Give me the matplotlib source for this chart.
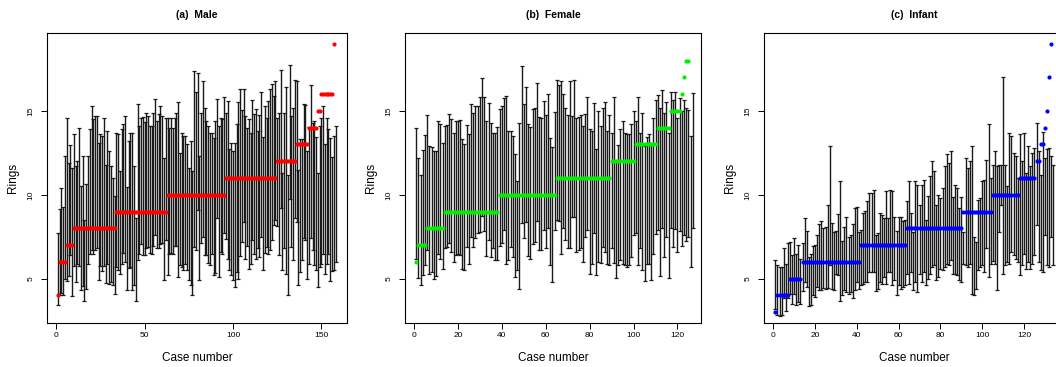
import numpy as np
import matplotlib
matplotlib.use('Agg')
import matplotlib.pyplot as plt

plt.rcParams['font.family'] = ['Liberation Sans', 'DejaVu Sans']

# observed rings (sorted), stored as value / number of cases
male_ring_values = [4, 6, 7, 8, 9, 10, 11, 12, 13, 14, 15, 16, 19]
male_ring_counts = [1, 4, 4, 24, 29, 33, 29, 11, 7, 5, 2, 7, 1]
female_ring_values = [6, 7, 8, 9, 10, 11, 12, 13, 14, 15, 16, 17, 18]
female_ring_counts = [1, 4, 8, 25, 26, 25, 11, 10, 6, 5, 1, 1, 2]
infant_ring_values = [3, 4, 5, 6, 7, 8, 9, 10, 11, 12, 13, 14, 15, 17, 19]
infant_ring_counts = [1, 6, 6, 28, 22, 27, 14, 13, 8, 2, 2, 1, 1, 1, 1]

# prediction interval per case
male_lower = [3.45, 4.05, 4.15, 4.0, 5.0, 4.85, 5.15, 6.4, 3.95, 5.75,
              4.8, 5.9, 5.75, 4.35, 4.55, 3.65, 4.4, 5.9, 6.5, 6.7,
              6.5, 6.7, 6.8, 4.95, 5.75, 5.45, 5.75, 4.75, 5.9, 4.7,
              4.8, 4.65, 4.1, 5.7, 5.5, 5.3, 5.85, 6.55, 6.0, 4.3,
              5.65, 5.7, 4.3, 4.6, 3.7, 6.1, 6.5, 7.05, 6.4, 6.4,
              6.8, 6.9, 6.55, 6.5, 6.95, 7.6, 6.8, 6.8, 7.05, 7.1,
              4.9, 7.3, 5.2, 6.5, 6.55, 6.5, 6.95, 6.95, 5.1, 5.8,
              5.7, 5.5, 5.9, 5.5, 4.9, 4.6, 4.0, 6.9, 6.7, 9.1,
              4.95, 7.15, 7.5, 6.4, 6.4, 5.95, 5.8, 6.5, 5.2, 5.35,
              8.6, 5.1, 6.6, 6.5, 7.7, 7.35, 6.2, 5.5, 5.2, 4.9,
              4.5, 5.4, 5.0, 6.35, 7.2, 8.35, 6.2, 6.95, 5.6, 5.9,
              7.3, 6.5, 6.15, 6.8, 6.3, 7.5, 5.5, 6.55, 6.9, 6.5,
              6.7, 7.3, 8.2, 8.5, 8.15, 6.4, 9.2, 5.5, 6.8, 5.3,
              4.0, 9.75, 6.9, 6.1, 8.6, 8.4, 4.6, 5.4, 6.1, 7.4,
              7.3, 5.0, 5.9, 7.4, 6.7, 5.8, 5.5, 4.5, 5.7, 5.9,
              6.5, 5.25, 5.9, 6.5, 4.85, 5.45, 5.5, 6.0]
male_upper = [7.7, 9.15, 10.4, 9.3, 12.3, 14.6, 11.9, 12.95, 11.6, 13.6,
              11.7, 12.0, 14.0, 10.5, 12.3, 8.5, 10.65, 12.3, 13.9, 15.3,
              14.5, 14.7, 14.7, 13.1, 13.6, 13.5, 14.55, 11.8, 13.8, 12.6,
              11.7, 11.0, 9.95, 13.7, 13.6, 11.4, 13.9, 14.2, 14.7, 10.45,
              13.2, 13.7, 13.7, 11.7, 8.6, 15.4, 14.1, 14.6, 14.65, 14.35,
              14.9, 14.7, 14.1, 14.1, 14.9, 15.7, 14.4, 14.8, 15.3, 14.7,
              12.2, 14.6, 14.6, 14.0, 14.6, 14.0, 14.6, 14.9, 15.5, 12.5,
              13.7, 13.5, 13.5, 13.0, 11.6, 13.2, 11.4, 17.4, 16.1, 17.25,
              12.3, 14.9, 16.75, 15.2, 14.4, 14.1, 13.7, 13.7, 13.4, 14.4,
              15.7, 14.1, 14.6, 14.5, 15.8, 14.9, 15.6, 12.7, 13.1, 12.6,
              13.1, 14.2, 15.5, 16.3, 15.05, 16.3, 14.7, 14.0, 14.5, 13.7,
              15.65, 14.8, 15.1, 13.8, 14.75, 16.1, 13.45, 15.3, 14.6, 15.6,
              16.3, 16.6, 15.9, 16.75, 14.6, 14.9, 17.45, 11.3, 14.85, 16.4,
              11.2, 17.75, 14.7, 15.2, 16.85, 16.8, 11.5, 13.3, 13.3, 15.4,
              15.35, 12.6, 14.05, 16.55, 14.3, 14.4, 13.45, 11.3, 14.1, 14.6,
              15.3, 13.0, 14.6, 13.9, 13.4, 12.25, 13.5, 14.1]

female_lower = [6.2, 5.05, 4.65, 5.2, 5.8, 6.7, 5.3, 5.4, 5.0, 5.15,
                6.5, 6.2, 5.55, 6.8, 6.9, 7.1, 6.6, 6.0, 6.4, 6.5,
                6.4, 5.55, 5.5, 6.9, 5.9, 7.5, 6.9, 7.4, 7.7, 7.8,
                8.75, 7.85, 6.35, 7.3, 6.3, 6.8, 6.1, 6.1, 6.95, 7.15,
                7.9, 5.9, 6.1, 6.9, 6.3, 5.1, 5.5, 4.4, 8.3, 7.4,
                8.4, 6.35, 6.15, 7.05, 7.2, 8.45, 6.7, 6.7, 7.9, 6.8,
                8.0, 5.8, 4.8, 7.9, 8.5, 8.45, 6.5, 8.0, 7.3, 6.85,
                6.8, 8.65, 8.7, 6.6, 6.7, 6.8, 6.0, 7.5, 7.9, 5.3,
                5.9, 7.7, 5.2, 6.0, 5.95, 6.9, 6.6, 5.85, 5.8, 6.8,
                5.95, 5.05, 5.8, 6.1, 5.85, 5.8, 5.7, 5.8, 6.3, 7.6,
                7.7, 5.8, 6.8, 5.5, 4.85, 5.9, 5.9, 4.9, 6.5, 7.65,
                7.9, 5.15, 8.0, 6.3, 7.5, 5.05, 8.0, 6.9, 7.95, 6.6,
                7.85, 6.95, 7.6, 7.25, 7.5, 5.7, 8.0]
female_upper = [13.95, 12.2, 11.2, 12.65, 13.55, 14.75, 12.9, 12.85, 12.6, 12.6,
                14.4, 14.2, 13.1, 14.1, 14.15, 14.8, 14.5, 13.7, 14.4, 14.4,
                14.45, 13.3, 13.0, 14.15, 13.65, 15.4, 14.85, 15.3, 15.3, 15.85,
                16.95, 15.8, 14.4, 15.45, 14.3, 13.7, 13.7, 14.05, 15.1, 15.3,
                15.75, 15.9, 13.8, 13.8, 13.5, 12.4, 10.85, 14.3, 17.65, 15.4,
                16.4, 14.2, 14.05, 15.1, 15.15, 16.65, 14.65, 14.55, 15.6, 14.75,
                16.0, 13.4, 12.85, 14.95, 16.85, 16.55, 16.75, 16.0, 15.2, 14.75,
                16.75, 14.7, 16.85, 14.6, 14.65, 14.75, 14.1, 14.8, 15.8, 13.9,
                13.8, 15.45, 12.7, 15.0, 14.1, 15.15, 15.55, 13.8, 14.75, 13.7,
                15.8, 12.1, 12.95, 13.9, 14.4, 13.7, 13.6, 13.6, 14.2, 15.0,
                14.4, 15.8, 13.7, 14.85, 12.9, 13.45, 13.6, 13.0, 14.55, 15.65,
                15.95, 15.15, 16.25, 14.85, 15.5, 13.7, 16.1, 15.65, 16.15, 14.55,
                15.75, 15.0, 15.65, 15.15, 15.05, 13.5, 16.05]

infant_lower = [3.2, 2.83, 2.77, 2.83, 3.82, 3.07, 3.82, 4.1, 3.5, 4.1,
                3.46, 3.6, 3.5, 4.26, 4.8, 4.5, 3.4, 3.46, 4.0, 3.9,
                4.5, 4.3, 4.3, 4.45, 4.4, 4.45, 5.8, 4.4, 4.3, 5.3,
                5.2, 3.7, 4.0, 4.3, 4.2, 4.1, 4.2, 3.82, 4.3, 4.78,
                4.4, 4.6, 4.7, 4.78, 4.8, 5.4, 5.4, 5.4, 4.26, 4.4,
                4.8, 4.7, 5.1, 4.7, 5.4, 5.4, 4.6, 4.9, 4.05, 4.6,
                4.4, 4.5, 4.65, 5.3, 4.7, 5.4, 4.3, 4.8, 4.2, 5.3,
                4.8, 5.4, 4.6, 5.0, 5.3, 5.7, 5.8, 4.9, 5.1, 5.6,
                5.5, 5.7, 5.9, 5.8, 6.1, 5.3, 5.3, 5.2, 4.9, 4.8,
                5.9, 5.8, 5.7, 5.85, 4.1, 4.0, 4.4, 5.5, 5.7, 5.8,
                5.4, 6.8, 5.1, 5.85, 6.05, 5.9, 4.3, 7.8, 9.4, 5.3,
                5.8, 6.0, 5.85, 6.6, 6.4, 6.2, 6.0, 5.2, 5.8, 6.5,
                5.6, 6.0, 5.6, 5.85, 6.4, 8.2, 6.0, 5.5, 5.4, 7.6,
                5.8, 5.7, 7.5, 5.8]
infant_upper = [6.1, 5.8, 5.7, 5.7, 6.85, 5.9, 7.1, 7.2, 6.4, 7.4,
                6.5, 7.0, 6.2, 7.1, 8.6, 7.85, 6.3, 6.5, 6.97, 7.0,
                7.6, 8.25, 8.45, 8.05, 8.1, 9.4, 12.9, 8.3, 7.8, 7.85,
                8.85, 10.85, 7.25, 8.1, 8.65, 7.5, 7.6, 8.25, 9.2, 9.3,
                7.8, 7.9, 8.9, 9.05, 9.6, 10.1, 10.1, 10.3, 7.6, 7.75,
                8.9, 8.8, 8.6, 10.25, 8.6, 10.3, 10.2, 8.65, 7.85, 8.7,
                8.65, 8.45, 8.5, 9.6, 10.8, 8.9, 7.8, 10.8, 10.6, 9.4,
                10.6, 10.9, 8.5, 9.9, 11.1, 12.0, 11.4, 9.4, 10.0, 9.8,
                10.4, 11.7, 12.4, 11.9, 12.6, 9.85, 10.6, 10.4, 9.2, 9.85,
                7.8, 12.2, 11.6, 12.0, 12.9, 7.5, 7.2, 9.7, 9.8, 10.8,
                10.9, 12.1, 14.2, 11.0, 11.8, 12.6, 11.7, 11.8, 11.8, 17.0,
                11.8, 10.5, 13.7, 13.5, 12.5, 12.3, 11.0, 13.6, 12.0, 13.7,
                11.3, 12.9, 11.7, 12.5, 12.8, 14.3, 12.6, 11.2, 13.75, 12.2,
                12.7, 12.8, 12.3, 11.8]


def draw_panel(ax, title, lower, upper, ring_values, ring_counts, color, xlim, xticks):
    lower = np.array(lower)
    upper = np.array(upper)
    cases = np.arange(1, len(lower) + 1)
    mid = (lower + upper) / 2
    half = (upper - lower) / 2
    ax.errorbar(cases, mid, yerr=half, fmt='none', ecolor='#1a1a1a',
                elinewidth=1.0, capsize=1.3, capthick=0.9)

    rings = np.repeat(ring_values, ring_counts)
    ax.scatter(np.arange(1, len(rings) + 1), rings, s=9, color=color,
               linewidths=0, zorder=3)

    ax.set_xlim(xlim)
    ax.set_ylim(2.36, 19.64)
    ax.set_xticks(xticks)
    ax.set_yticks([5, 10, 15])
    ax.tick_params(axis='x', length=4, width=0.7, pad=2.2, labelsize=6)
    ax.tick_params(axis='y', length=4, width=0.7, pad=5, labelsize=6)
    for lab in ax.get_yticklabels():
        lab.set_rotation(90)
        lab.set_va('center')
    for sp in ax.spines.values():
        sp.set_linewidth(0.8)

    ax.set_title(title, fontsize=7.5, fontweight='bold', pad=11)
    ax.text(0.5, -35 / 290, 'Case number', transform=ax.transAxes,
            ha='center', va='center', fontsize=8.5)
    ax.text(-34 / 300, 0.5, 'Rings', transform=ax.transAxes, rotation=90,
            ha='center', va='center', fontsize=8.5)


fig = plt.figure(figsize=(10.56, 3.67), dpi=100)
ax1 = fig.add_axes([0.0445, 0.1199, 0.2841, 0.7902])
ax2 = fig.add_axes([0.3835, 0.1199, 0.2803, 0.7902])
ax3 = fig.add_axes([0.7238, 0.1199, 0.2841, 0.7902])

draw_panel(ax1, '(a)  Male', male_lower, male_upper, male_ring_values,
           male_ring_counts, 'red', (-5.2, 164.5), [0, 50, 100, 150])
draw_panel(ax2, '(b)  Female', female_lower, female_upper, female_ring_values,
           female_ring_counts, '#00ee00', (-4.1, 130.7), [0, 20, 40, 60, 80, 100, 120])
draw_panel(ax3, '(c)  Infant', infant_lower, infant_upper, infant_ring_values,
           infant_ring_counts, 'blue', (-4.3, 139.3), [0, 20, 40, 60, 80, 100, 120])

fig.savefig('out.png', dpi=100)
